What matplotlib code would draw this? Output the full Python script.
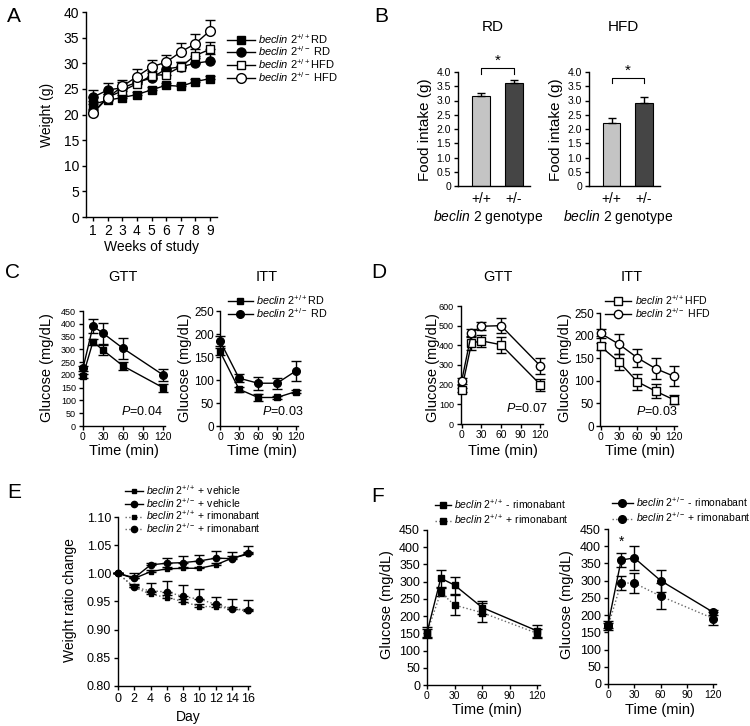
import numpy as np
import matplotlib.pyplot as plt
from matplotlib.lines import Line2D

plt.rcParams['font.family'] = ['Liberation Sans', 'DejaVu Sans']
plt.rcParams['mathtext.fontset'] = 'custom'
plt.rcParams['mathtext.rm'] = 'Liberation Sans'
plt.rcParams['mathtext.it'] = 'Liberation Sans:italic'
plt.rcParams['axes.linewidth'] = 1.0

W, H = 750, 726

# ---- panel A: body weight
weeks = [1, 2, 3, 4, 5, 6, 7, 8, 9]
a_wt_rd = [22.0, 22.8, 23.3, 23.9, 24.8, 25.7, 25.5, 26.4, 27.0]
a_wt_rd_err = [0.6, 0.5, 0.5, 0.5, 0.5, 0.5, 0.5, 0.5, 0.5]
a_het_rd = [23.4, 24.8, 25.2, 26.3, 27.1, 28.9, 29.3, 30.0, 30.4]
a_het_rd_err = [1.3, 1.3, 1.2, 1.0, 1.0, 1.0, 1.0, 1.0, 1.5]
a_wt_hfd = [20.5, 23.4, 24.6, 26.0, 27.6, 27.8, 29.3, 31.5, 32.7]
a_wt_hfd_err = [0.5, 0.6, 0.7, 0.8, 0.8, 0.9, 1.0, 1.2, 1.4]
a_het_hfd = [20.3, 23.3, 25.5, 27.4, 29.3, 30.2, 32.2, 33.8, 36.3]
a_het_hfd_err = [0.5, 0.7, 1.3, 1.5, 1.4, 1.5, 1.7, 2.0, 2.1]

# ---- panel B: food intake
genotypes = ['+/+', '+/-']
b_rd = [3.15, 3.60]
b_rd_err = [0.10, 0.12]
b_hfd = [2.20, 2.90]
b_hfd_err = [0.17, 0.23]

# ---- panels C, D: GTT / ITT
gtt_time = [0, 15, 30, 60, 120]
itt_time = [0, 30, 60, 90, 120]
c_gtt_wt = [197, 330, 297, 235, 150]
c_gtt_wt_err = [8, 12, 20, 14, 15]
c_gtt_het = [226, 391, 363, 304, 200]
c_gtt_het_err = [10, 27, 42, 42, 22]
c_itt_wt = [162, 80, 62, 62, 75]
c_itt_wt_err = [8, 5, 8, 3, 3]
c_itt_het = [185, 104, 93, 93, 120]
c_itt_het_err = [10, 8, 14, 12, 22]
d_gtt_wt = [175, 411, 423, 403, 200]
d_gtt_wt_err = [10, 35, 30, 40, 30]
d_gtt_het = [218, 463, 497, 500, 295]
d_gtt_het_err = [15, 20, 20, 38, 40]
d_itt_wt = [176, 142, 98, 77, 58]
d_itt_wt_err = [8, 18, 18, 15, 10]
d_itt_het = [205, 181, 151, 127, 110]
d_itt_het_err = [10, 22, 20, 23, 22]

# ---- panel E: weight ratio with rimonabant
days = [0, 2, 4, 6, 8, 10, 12, 14, 16]
e_wt_veh = [1.000, 0.991, 1.003, 1.008, 1.009, 1.009, 1.015, 1.027, 1.034]
e_wt_veh_err = [0, 0.005, 0.003, 0.003, 0.003, 0.003, 0.003, 0.004, 0.004]
e_het_veh = [1.000, 0.992, 1.015, 1.018, 1.019, 1.022, 1.027, 1.026, 1.036]
e_het_veh_err = [0, 0.009, 0.004, 0.010, 0.011, 0.011, 0.013, 0.012, 0.013]
e_wt_rim = [1.000, 0.975, 0.963, 0.957, 0.950, 0.941, 0.941, 0.937, 0.933]
e_wt_rim_err = [0, 0.004, 0.004, 0.004, 0.004, 0.004, 0.004, 0.004, 0.004]
e_het_rim = [1.000, 0.975, 0.969, 0.967, 0.959, 0.954, 0.945, 0.937, 0.935]
e_het_rim_err = [0, 0.006, 0.014, 0.020, 0.021, 0.019, 0.013, 0.018, 0.017]

# ---- panel F: GTT with rimonabant
f_wt_minus = [152, 310, 290, 225, 157]
f_wt_minus_err = [15, 25, 25, 18, 18]
f_wt_plus = [152, 269, 232, 210, 150]
f_wt_plus_err = [12, 12, 28, 28, 13]
f_het_minus = [172, 360, 366, 300, 208]
f_het_minus_err = [10, 20, 35, 32, 8]
f_het_plus = [167, 293, 293, 255, 190]
f_het_plus_err = [10, 20, 28, 38, 18]

DOT = '#666666'


def px_axes(fig, l, t, r, b):
    # axes box given in pixel coords of the 750x726 figure
    return fig.add_axes([l / W, 1 - b / H, (r - l) / W, (b - t) / H])


def style(ax, fs, xfs=None):
    ax.spines[['top', 'right']].set_visible(False)
    ax.tick_params(direction='out', length=3, width=1, labelsize=fs, pad=2)
    if xfs:
        ax.tick_params(axis='x', labelsize=xfs, pad=1)


def ftext(x, y, s, **kw):
    fig.text(x / W, 1 - y / H, s, ha=kw.pop('ha', 'center'), va=kw.pop('va', 'center'), **kw)


def series(ax, x, y, err, marker, filled, ms, ls='-', color='k', up_only=False, z=3):
    err = np.asarray(err)
    yerr = [np.zeros_like(err), err] if up_only else err
    ax.errorbar(x, y, yerr=yerr, color=color, ls=ls, lw=1, marker=marker, ms=ms,
                mfc='k' if filled else 'white', mec='k', ecolor='k',
                elinewidth=1, capsize=3.5, capthick=1, zorder=z, clip_on=False)


def handle(marker, filled, ms, ls='-', color='k'):
    return Line2D([], [], color=color, ls=ls, lw=1, marker=marker, ms=ms,
                  mfc='k' if filled else 'white', mec='k')


def legend(ax, handles, labels, x, y, fs, hl=2.0, sp=0.0):
    ax.legend(handles, labels, loc='upper left', bbox_to_anchor=(x / W, 1 - y / H),
              bbox_transform=fig.transFigure, frameon=False, fontsize=fs,
              handlelength=hl, handletextpad=0.3, labelspacing=sp,
              borderpad=0, borderaxespad=0)


def lab(geno, rest):
    return r'$\mathit{beclin}\ 2^{' + geno + r'}$' + rest


fig = plt.figure(figsize=(7.5, 7.26), dpi=100)

# ================= A
ax = px_axes(fig, 86, 12, 217, 217)
style(ax, 10)
series(ax, weeks, a_wt_rd, a_wt_rd_err, 's', True, 5.8, up_only=True, z=3)
series(ax, weeks, a_het_rd, a_het_rd_err, 'o', True, 6.5, up_only=True, z=3.2)
series(ax, weeks, a_wt_hfd, a_wt_hfd_err, 's', False, 6, up_only=True, z=3.4)
series(ax, weeks, a_het_hfd, a_het_hfd_err, 'o', False, 7, up_only=True, z=3.6)
ax.set_xlim(0.5, 9.5)
ax.set_ylim(0, 40)
ax.set_xticks(weeks)
ax.set_yticks(np.arange(0, 41, 5))
legend(ax, [handle('s', True, 5.8), handle('o', True, 6.5), handle('s', False, 6), handle('o', False, 7)],
       [lab('+/+', 'RD'), lab('+/-', ' RD'), lab('+/+', 'HFD'), lab('+/-', ' HFD')],
       227, 32, 8, hl=2.5, sp=-0.11)
ftext(47, 115, 'Weight (g)', rotation=90, fontsize=10)
ftext(152, 247, 'Weeks of study', fontsize=10)
ftext(14, 16, 'A', fontsize=15)

# ================= B
for (l, r), vals, errs, title, bh, bl in [((458, 530), b_rd, b_rd_err, 'RD', 4.13, 3.93),
                                       ((589, 660), b_hfd, b_hfd_err, 'HFD', 3.78, 3.60)]:
    ax = px_axes(fig, l, 72, r, 186)
    style(ax, 7.5)
    xs = np.arange(len(genotypes))
    ax.bar(xs, vals, width=0.55, color=['#c4c4c4', '#454545'], edgecolor='k', linewidth=0.8)
    ax.errorbar(xs, vals, yerr=[[0, 0], errs], fmt='none', ecolor='k', elinewidth=1,
                capsize=3, capthick=1)
    ax.set_xlim(-0.7, 1.5)
    ax.set_ylim(0, 4)
    ax.set_yticks(np.arange(0, 4.01, 0.5))
    ax.set_yticklabels(['0'] + ['%.1f' % v for v in np.arange(0.5, 4.01, 0.5)])
    ax.set_xticks(xs)
    ax.set_xticklabels(genotypes, fontsize=10)
    ax.tick_params(axis='x', length=0, pad=4)
    ax.plot([0, 0, 1, 1], [bl, bh, bh, bl], color='k', lw=0.8, clip_on=False)
    ax.text(0.5, bh + 0.02, '*', ha='center', va='bottom', fontsize=11)
    cx = (l + r) / 2
    ftext(cx - 1, 27, title, fontsize=11)
    ftext(l - 33, 130, 'Food intake (g)', rotation=90, fontsize=11)
    ftext(cx - 6, 217, r'$\mathit{beclin}$ 2 genotype', fontsize=10)
ftext(381, 16, 'B', fontsize=15)

# ================= C
ax = px_axes(fig, 83, 311, 165, 426)
style(ax, 6.5, 7.5)
series(ax, gtt_time, c_gtt_wt, c_gtt_wt_err, 's', True, 5)
series(ax, gtt_time, c_gtt_het, c_gtt_het_err, 'o', True, 5.5)
ax.set_xlim(0, 123)
ax.set_ylim(0, 450)
ax.set_xticks([0, 30, 60, 90, 120])
ax.set_yticks(np.arange(0, 451, 50))
ax.text(0.72, 0.1, r'$\mathit{P}$=0.04', transform=ax.transAxes, ha='center', fontsize=9)
ftext(123, 277, 'GTT', fontsize=10.5)
ftext(47, 368, 'Glucose (mg/dL)', rotation=90, fontsize=10.5)
ftext(124, 451, 'Time (min)', fontsize=10.5)

ax = px_axes(fig, 220, 311, 298, 426)
style(ax, 8.5, 7.5)
ax.tick_params(axis='y', pad=1.5)
series(ax, itt_time, c_itt_wt, c_itt_wt_err, 's', True, 5)
series(ax, itt_time, c_itt_het, c_itt_het_err, 'o', True, 5.5)
ax.set_xlim(0, 123)
ax.set_ylim(0, 250)
ax.set_xticks([0, 30, 60, 90, 120])
ax.set_yticks(np.arange(0, 251, 50))
ax.text(0.8, 0.1, r'$\mathit{P}$=0.03', transform=ax.transAxes, ha='center', fontsize=9)
legend(ax, [handle('s', True, 5), handle('o', True, 5.5)],
       [lab('+/+', 'RD'), lab('+/-', ' RD')], 228, 293, 7.8, hl=2.3, sp=-0.06)
ftext(267, 277, 'ITT', fontsize=10.5)
ftext(185, 368, 'Glucose (mg/dL)', rotation=90, fontsize=10.5)
ftext(262, 451, 'Time (min)', fontsize=10.5)
ftext(12, 273, 'C', fontsize=15)

# ================= D
ax = px_axes(fig, 461, 306, 543, 424)
style(ax, 6.5, 7.5)
series(ax, gtt_time, d_gtt_wt, d_gtt_wt_err, 's', False, 5.5)
series(ax, gtt_time, d_gtt_het, d_gtt_het_err, 'o', False, 6)
ax.set_xlim(-1, 124)
ax.set_ylim(0, 600)
ax.set_xticks([0, 30, 60, 90, 120])
ax.set_yticks(np.arange(0, 601, 100))
ax.text(0.8, 0.1, r'$\mathit{P}$=0.07', transform=ax.transAxes, ha='center', fontsize=9)
ftext(498, 277, 'GTT', fontsize=10.5)
ftext(433, 368, 'Glucose (mg/dL)', rotation=90, fontsize=10.5)
ftext(503, 451, 'Time (min)', fontsize=10.5)

ax = px_axes(fig, 600, 313, 677, 426)
style(ax, 8.5, 7.5)
ax.tick_params(axis='y', pad=1.5)
series(ax, itt_time, d_itt_wt, d_itt_wt_err, 's', False, 5.5)
series(ax, itt_time, d_itt_het, d_itt_het_err, 'o', False, 6)
ax.set_xlim(-1, 125)
ax.set_ylim(0, 250)
ax.set_xticks([0, 30, 60, 90, 120])
ax.set_yticks(np.arange(0, 251, 50))
ax.text(0.73, 0.1, r'$\mathit{P}$=0.03', transform=ax.transAxes, ha='center', fontsize=9)
legend(ax, [handle('s', False, 5.5), handle('o', False, 6)],
       [lab('+/+', 'HFD'), lab('+/-', ' HFD')], 605, 293, 7.6, hl=2.5, sp=-0.06)
ftext(632, 277, 'ITT', fontsize=10.5)
ftext(565, 368, 'Glucose (mg/dL)', rotation=90, fontsize=10.5)
ftext(640, 451, 'Time (min)', fontsize=10.5)
ftext(379, 273, 'D', fontsize=15)

# ================= E
ax = px_axes(fig, 118, 517, 250, 686)
style(ax, 9)
series(ax, days, e_wt_rim, e_wt_rim_err, 's', True, 3.5, ls=':', color=DOT, up_only=True)
series(ax, days, e_het_rim, e_het_rim_err, 'o', True, 4.5, ls=':', color=DOT, up_only=True)
series(ax, days, e_wt_veh, e_wt_veh_err, 's', True, 3.5, up_only=True)
series(ax, days, e_het_veh, e_het_veh_err, 'o', True, 4.5, up_only=True)
ax.set_xlim(0, 16.2)
ax.set_ylim(0.80, 1.10)
ax.set_xticks(days)
ax.set_yticks(np.arange(0.80, 1.101, 0.05))
ax.set_yticklabels(['%.2f' % v for v in np.arange(0.80, 1.101, 0.05)])
legend(ax, [handle('s', True, 3.5), handle('o', True, 4.5),
            handle('s', True, 3.5, ':', DOT), handle('o', True, 4.5, ':', DOT)],
       [lab('+/+', ' + vehicle'), lab('+/-', ' + vehicle'),
        lab('+/+', ' + rimonabant'), lab('+/-', ' + rimonabant')], 125, 483, 7.5, hl=1.7, sp=-0.1)
ftext(70, 600, 'Weight ratio change', rotation=90, fontsize=10)
ftext(188, 717, 'Day', fontsize=10)
ftext(14, 493, 'E', fontsize=15)

# ================= F
ax = px_axes(fig, 427, 530, 540, 685)
style(ax, 9, 7.5)
series(ax, gtt_time, f_wt_plus, f_wt_plus_err, 's', True, 5, ls=':', color=DOT)
series(ax, gtt_time, f_wt_minus, f_wt_minus_err, 's', True, 5)
ax.set_xlim(0, 123)
ax.set_ylim(0, 450)
ax.set_xticks([0, 30, 60, 90, 120])
ax.set_yticks(np.arange(0, 451, 50))
legend(ax, [handle('s', True, 5), handle('s', True, 5, ':', DOT)],
       [lab('+/+', ' - rimonabant'), lab('+/+', ' + rimonabant')], 435, 497, 7.5, hl=1.5, sp=0.16)
ftext(387, 605, 'Glucose (mg/dL)', rotation=90, fontsize=10.5)
ftext(487, 710, 'Time (min)', fontsize=10.5)
ftext(378, 497, 'F', fontsize=15)

ax = px_axes(fig, 608, 529, 716, 684)
style(ax, 9, 7.5)
series(ax, gtt_time, f_het_plus, f_het_plus_err, 'o', True, 5.5, ls=':', color=DOT)
series(ax, gtt_time, f_het_minus, f_het_minus_err, 'o', True, 5.5)
ax.set_xlim(0, 123)
ax.set_ylim(0, 450)
ax.set_xticks([0, 30, 60, 90, 120])
ax.set_yticks(np.arange(0, 451, 50))
ax.text(15, 414, '*', ha='center', va='center', fontsize=10)
legend(ax, [handle('o', True, 5.5), handle('o', True, 5.5, ':', DOT)],
       [lab('+/-', ' - rimonabant'), lab('+/-', ' + rimonabant')], 612, 495, 7.5, hl=2.0, sp=0.16)
ftext(567, 605, 'Glucose (mg/dL)', rotation=90, fontsize=10.5)
ftext(660, 710, 'Time (min)', fontsize=10.5)

fig.savefig('out.png', dpi=100)
